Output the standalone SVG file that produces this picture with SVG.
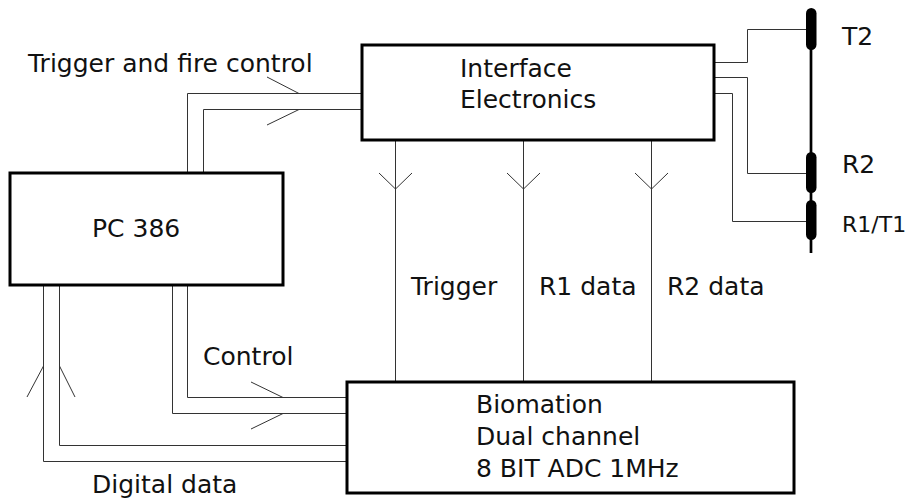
<svg xmlns="http://www.w3.org/2000/svg" width="910" height="499" viewBox="0 0 910 499">
<style>
.box{fill:#fff;stroke:#000;stroke-width:3}
.w{fill:none;stroke:#333;stroke-width:1}
.t{font-family:"DejaVu Sans","Liberation Sans",sans-serif;font-size:25px;fill:#111}
.cap{fill:#000}
</style>
<rect width="910" height="499" fill="#fff"/>
<g id="connectors">
<!-- Trigger and fire control bus -->
<path class="w" d="M187.5 173V93.5H362"/>
<path class="w" d="M203.5 173V109.5H362"/>
<path class="w" d="M267 77L299 93.5M267 125L299 109.5"/>
<!-- Interface to Biomation -->
<path class="w" d="M395.5 140V382M523.5 140V382M651.5 140V382"/>
<path class="w" d="M379 173L395.5 189L412 173M507 173L523.5 189L540 173M635 173L651.5 189L668 173"/>
<!-- Control bus -->
<path class="w" d="M187.5 285V397.5H347"/>
<path class="w" d="M172.5 285V413.5H347"/>
<path class="w" d="M251 382L283 397.5M251 429L283 413.5"/>
<!-- Digital data bus -->
<path class="w" d="M59.5 285V445.5H347"/>
<path class="w" d="M43.5 285V461.5H347"/>
<path class="w" d="M27 397L43.5 366M59.5 366L75 397"/>
<!-- Interface to probes -->
<path class="w" d="M714 62.5H747.5V29.5H806"/>
<path class="w" d="M714 77.5H747.5V173.5H806"/>
<path class="w" d="M714 93.5H732.5V221.5H806"/>
</g>
<g id="probe">
<line x1="811" y1="10" x2="811" y2="253" stroke="#000" stroke-width="2.7"/>
<rect class="cap" x="806" y="8" width="10.5" height="42" rx="5.25"/>
<rect class="cap" x="806" y="152" width="10.5" height="41" rx="5.25"/>
<rect class="cap" x="806" y="200" width="10.5" height="40" rx="5.25"/>
<text class="t" x="842" y="45">T2</text>
<text class="t" x="842" y="173">R2</text>
<text class="t" x="842" y="232" style="font-size:22px">R1/T1</text>
</g>
<g id="interface">
<rect class="box" x="362" y="45" width="352" height="95"/>
<text class="t" x="460" y="77">Interface</text>
<text class="t" x="460" y="108">Electronics</text>
</g>
<g id="pc386">
<rect class="box" x="10" y="173" width="273" height="112"/>
<text class="t" x="92" y="237">PC 386</text>
</g>
<g id="biomation">
<rect class="box" x="347" y="382" width="447" height="111"/>
<text class="t" x="476" y="413">Biomation</text>
<text class="t" x="476" y="445">Dual channel</text>
<text class="t" x="476" y="477">8 BIT ADC 1MHz</text>
</g>
<g id="labels">
<text class="t" x="28" y="72">Trigger and fire control</text>
<text class="t" x="411" y="295">Trigger</text>
<text class="t" x="539" y="295">R1 data</text>
<text class="t" x="667" y="295">R2 data</text>
<text class="t" x="203" y="365">Control</text>
<text class="t" x="92" y="493">Digital data</text>
</g>
</svg>
